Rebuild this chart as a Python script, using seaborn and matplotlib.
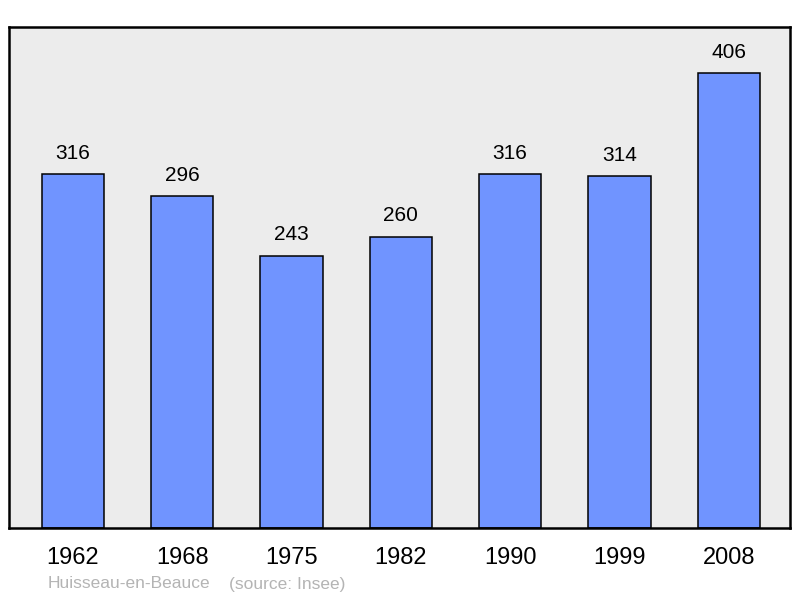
import pandas as pd
import numpy as np
import matplotlib
matplotlib.use("Agg")
import matplotlib.pyplot as plt
from matplotlib import font_manager
import seaborn as sns

years = ["1962", "1968", "1975", "1982", "1990", "1999", "2008"]
population = [316, 296, 243, 260, 316, 314, 406]
commune = "Huisseau-en-Beauce"
source = "(source: Insee)"

df = pd.DataFrame({"year": years, "pop": population})

sns.set_style("white")
# pick the regular (not narrow) Liberation Sans file
fname = None
for f in font_manager.findSystemFonts():
    if f.endswith("LiberationSans-Regular.ttf"):
        fname = f
if fname:
    font_manager.fontManager.addfont(fname)
    fam = font_manager.FontProperties(fname=fname).get_name()
else:
    fam = "DejaVu Sans"
plt.rcParams["font.family"] = [fam, "DejaVu Sans"]
plt.rcParams["text.color"] = "black"
plt.rcParams["xtick.color"] = "black"

fig = plt.figure(figsize=(8, 5.98), dpi=100)
ax = fig.add_axes([9 / 800, 1 - 528 / 598, 781 / 800, 501 / 598])
ax.set_facecolor("#ececec")

sns.barplot(data=df, x="year", y="pop", color="#7094ff", saturation=1,
            width=0.57, edgecolor="black", linewidth=1.1, ax=ax)

for i, v in enumerate(population):
    ax.text(i, v + 10, str(v), ha="center", va="bottom", fontsize=15)

ax.set_xlim(-0.585, 6.56)
ax.set_ylim(0, 447)
ax.set_xlabel("")
ax.set_ylabel("")
ax.set_yticks([])
ax.tick_params(axis="x", length=0, pad=14, labelsize=17)
for s in ax.spines.values():
    s.set_visible(True)
    s.set_color("black")
    s.set_linewidth(1.8)

fig.text(48 / 800, 1 - 584 / 598, commune, color="#b4b4b4", fontsize=12.5, va="center")
fig.text(229 / 800, 1 - 584 / 598, source, color="#b4b4b4", fontsize=12.5, va="center")

fig.savefig("out.png", dpi=100)
